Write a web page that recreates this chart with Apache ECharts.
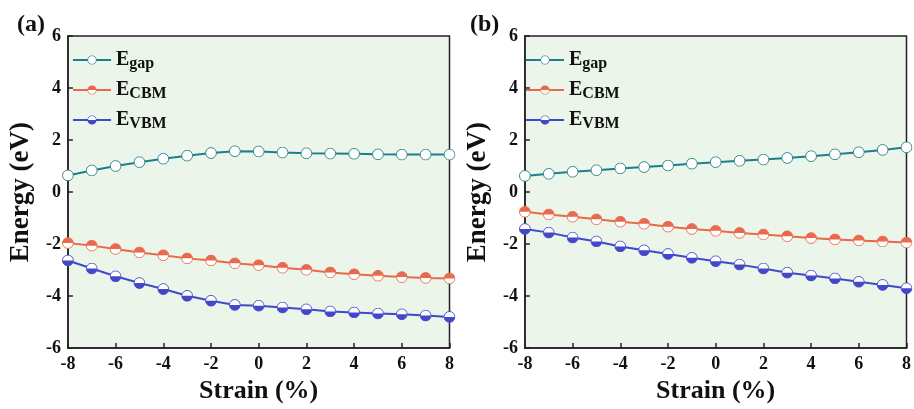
<!DOCTYPE html>
<html><head><meta charset="utf-8">
<script src="https://cdn.jsdelivr.net/npm/echarts@6/dist/echarts.min.js"></script>
<style>html,body{margin:0;padding:0;background:#fff;}#a,#b{position:absolute;top:0;width:457px;height:409px;}#a{left:0}#b{left:457px}</style>
</head><body><div id="a"></div><div id="b"></div>
<script>
const strain = [-8,-7,-6,-5,-4,-3,-2,-1,0,1,2,3,4,5,6,7,8];
const xTicks = [-8,-6,-4,-2,0,2,4,6,8];
const yTicks = [-6,-4,-2,0,2,4,6];
const gapA = [0.64,0.83,1.00,1.15,1.28,1.40,1.50,1.57,1.56,1.52,1.49,1.48,1.47,1.45,1.44,1.44,1.44];
const cbmA = [-1.96,-2.06,-2.19,-2.32,-2.43,-2.55,-2.63,-2.74,-2.81,-2.91,-2.99,-3.09,-3.16,-3.22,-3.27,-3.30,-3.32];
const vbmA = [-2.63,-2.94,-3.24,-3.50,-3.73,-3.99,-4.18,-4.34,-4.37,-4.44,-4.51,-4.59,-4.63,-4.67,-4.70,-4.75,-4.80];
const gapB = [0.62,0.70,0.78,0.84,0.91,0.96,1.02,1.09,1.15,1.20,1.25,1.31,1.38,1.45,1.53,1.62,1.72];
const cbmB = [-0.76,-0.86,-0.95,-1.05,-1.14,-1.22,-1.33,-1.42,-1.49,-1.57,-1.63,-1.70,-1.77,-1.82,-1.86,-1.90,-1.94];
const vbmB = [-1.42,-1.56,-1.75,-1.90,-2.09,-2.24,-2.38,-2.53,-2.66,-2.79,-2.94,-3.10,-3.21,-3.32,-3.45,-3.57,-3.70];
const panelLabels = ['(a)','(b)'];

const C_GAP = '#1d7f8b', C_CBM = '#e8694b', C_VBM = '#4248c9';
function svgSym(color, mode){
  let s = "<svg xmlns='http://www.w3.org/2000/svg' width='40' height='40' viewBox='0 0 40 40'>";
  s += "<circle cx='20' cy='20' r='18' fill='white' stroke='"+color+"' stroke-width='3'/>";
  if(mode==='top') s += "<path d='M2,20 A18,18 0 0 1 38,20 Z' fill='"+color+"'/>";
  if(mode==='bottom') s += "<path d='M2,20 A18,18 0 0 0 38,20 Z' fill='"+color+"'/>";
  s += "</svg>";
  return 'image://data:image/svg+xml;charset=utf-8,' + encodeURIComponent(s);
}
const FONT = "'Liberation Serif','Times New Roman',serif";
function makeOpt(label, gap, cbm, vbm, gridLeft, gridRight){
  const pair = arr => strain.map((x,i)=>[x, arr[i]]);
  const mk = (name, color, data, mode) => ({
    name, type:'line', data: pair(data), symbol: svgSym(color, mode), symbolSize: 12,
    lineStyle:{color, width:2}, itemStyle:{color}, z: 3, animation:false
  });
  return {
    animation:false,
    backgroundColor:'#fff',
    grid:{left:gridLeft, right:gridRight, top:36, bottom:58, show:true, backgroundColor:'#ebf5e9', borderColor:'#222', borderWidth:1.5},
    title:{text:label, left: gridLeft-52, top:8, textStyle:{fontFamily:FONT, fontWeight:'bold', fontSize:24, color:'#111'}},
    legend:{
      orient:'vertical', left: gridLeft+8, top:50, padding:0, itemGap:8, itemWidth:38, itemHeight:12,
      data:['gap','CBM','VBM'],
      formatter: n => '{e|E}{s|' + n + '}',
      textStyle:{fontFamily:FONT, color:'#111', rich:{
        e:{fontFamily:FONT, fontWeight:'bold', fontSize:20, color:'#111'},
        s:{fontFamily:FONT, fontWeight:'bold', fontSize:16, color:'#111', padding:[8,0,0,0]}
      }}
    },
    xAxis:{type:'value', min:-8, max:8, interval:2,
      name:'Strain (%)', nameLocation:'middle', nameGap:28,
      nameTextStyle:{fontFamily:FONT, fontWeight:'bold', fontSize:26, color:'#111'},
      axisLine:{onZero:false, lineStyle:{color:'#222', width:1.5}}, axisTick:{inside:true, length:5, lineStyle:{color:'#222', width:1.5}},
      axisLabel:{fontFamily:FONT, fontWeight:'bold', fontSize:18, color:'#111', margin:7},
      splitLine:{show:false}},
    yAxis:{type:'value', min:-6, max:6, interval:2,
      name:'Energy (eV)', nameLocation:'middle', nameGap:29,
      nameTextStyle:{fontFamily:FONT, fontWeight:'bold', fontSize:27, color:'#111'},
      axisLine:{onZero:false, lineStyle:{color:'#222', width:1.5}}, axisTick:{inside:true, length:5, lineStyle:{color:'#222', width:1.5}},
      axisLabel:{fontFamily:FONT, fontWeight:'bold', fontSize:18, color:'#111', margin:7},
      splitLine:{show:false}},
    series:[mk('gap', C_GAP, gap, 'none'), mk('CBM', C_CBM, cbm, 'top'), mk('VBM', C_VBM, vbm, 'bottom')]
  };
}
echarts.init(document.getElementById('a')).setOption(makeOpt(panelLabels[0], gapA, cbmA, vbmA, 64, 4));
echarts.init(document.getElementById('b')).setOption(makeOpt(panelLabels[1], gapB, cbmB, vbmB, 60, 7));
</script></body></html>
